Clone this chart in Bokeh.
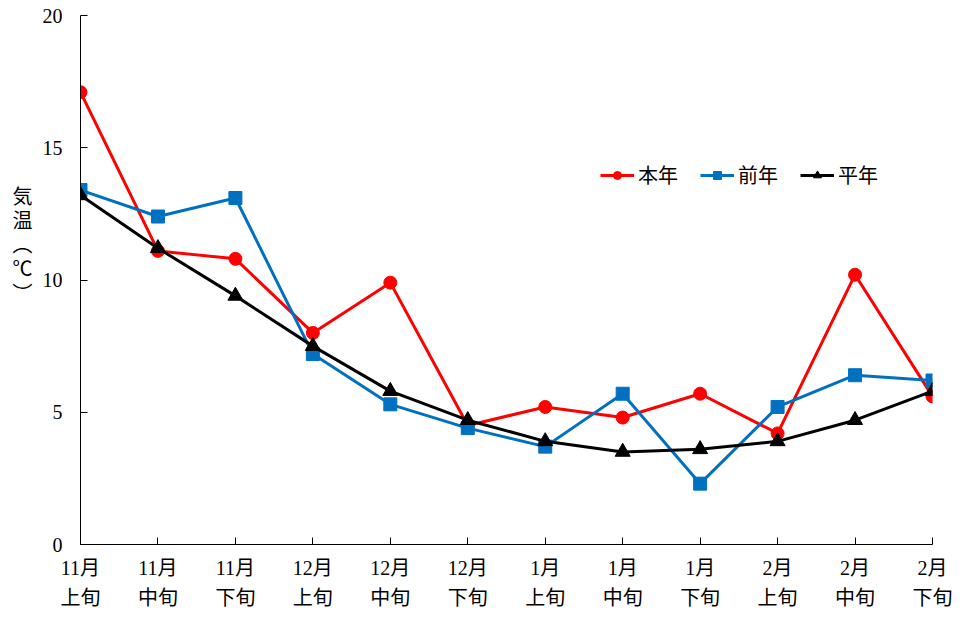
from bokeh.plotting import figure
from bokeh.models import Range1d, Legend, LegendItem, FixedTicker
from bokeh.embed import file_html
from bokeh.resources import INLINE

categories = ["11月\n上旬", "11月\n中旬", "11月\n下旬",
              "12月\n上旬", "12月\n中旬", "12月\n下旬",
              "1月\n上旬", "1月\n中旬", "1月\n下旬",
              "2月\n上旬", "2月\n中旬", "2月\n下旬"]
this_year = [17.1, 11.1, 10.8, 8.0, 9.9, 4.5, 5.2, 4.8, 5.7, 4.2, 10.2, 5.6]
last_year = [13.4, 12.4, 13.1, 7.2, 5.3, 4.4, 3.7, 5.7, 2.3, 5.2, 6.4, 6.2]
normal_year = [13.2, 11.2, 9.4, 7.5, 5.8, 4.7, 3.9, 3.5, 3.6, 3.9, 4.7, 5.8]
y_ticks = [0, 5, 10, 15, 20]
series_names = ["本年", "前年", "平年"]
y_title = "気\n温\n︵\n℃\n︶\n\u3000\n\u3000\n\u3000"

x = list(range(len(categories)))

FONT_MIX = "Liberation Serif, Noto Sans CJK JP"
FONT_CJK = "Noto Sans CJK JP"

p = figure(width=952, height=612, output_backend="svg", toolbar_location=None,
           x_range=Range1d(0, len(categories) - 1), y_range=Range1d(0, 20),
           min_border_left=80, min_border_right=20, min_border_top=15,
           min_border_bottom=68)

p.xgrid.visible = False
p.ygrid.visible = False
p.outline_line_color = None
p.background_fill_color = "white"

for ax in (p.xaxis[0], p.yaxis[0]):
    ax.axis_line_color = "black"
    ax.axis_line_width = 1
    ax.major_tick_line_color = "black"
    ax.major_tick_in = 7
    ax.major_tick_out = 0
    ax.minor_tick_line_color = None
    ax.major_label_text_font = FONT_MIX
    ax.major_label_text_font_size = "20px"
    ax.major_label_text_color = "black"

p.xaxis.ticker = FixedTicker(ticks=x)
p.xaxis.major_label_overrides = {i: c for i, c in enumerate(categories)}
p.xaxis.major_label_standoff = 12
p.xaxis.major_label_text_line_height = 1.4

p.yaxis.ticker = FixedTicker(ticks=y_ticks)
p.yaxis.major_label_standoff = 18
p.yaxis.axis_label = y_title
p.yaxis.axis_label_orientation = "horizontal"
p.yaxis.axis_label_text_font = FONT_CJK
p.yaxis.axis_label_text_font_size = "20px"
p.yaxis.axis_label_text_font_style = "normal"
p.yaxis.axis_label_text_color = "black"
p.yaxis.axis_label_text_line_height = 0.83
p.yaxis.axis_label_standoff = 7

colors = ["#FF0000", "#0070C0", "#000000"]
data = [this_year, last_year, normal_year]
markers = ["circle", "square", "triangle"]
sizes = [13, 13, 15]

items = []
for name, vals, col, mk, sz in zip(series_names, data, colors, markers, sizes):
    ln = p.line(x, vals, line_color=col, line_width=3)
    sc = p.scatter(x, vals, marker=mk, size=sz, fill_color=col, line_color=col)
    items.append(LegendItem(label=name, renderers=[ln, sc]))

legend = Legend(items=items, orientation="horizontal", location=(520, 355),
                border_line_color=None, background_fill_alpha=0,
                padding=0, margin=0, spacing=22, label_standoff=4,
                glyph_width=34, glyph_height=20,
                label_text_font=FONT_CJK, label_text_font_size="20px",
                label_text_color="black")
p.add_layout(legend)

open("out.html", "w").write(file_html(p, INLINE))
